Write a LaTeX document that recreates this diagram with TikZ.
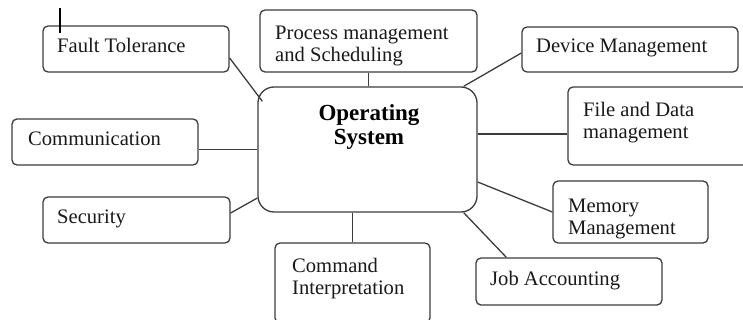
\documentclass[tikz,border=0pt]{standalone}
\usepackage{fontspec}
\setmainfont{Liberation Serif}
\usetikzlibrary{calc}
\definecolor{edge}{HTML}{3C3C3C}
\tikzset{
  box/.style={draw=edge, line width=1.3pt, rounded corners=5pt, inner sep=0pt, fill=white},
  osbox/.style={draw=edge, line width=1.3pt, rounded corners=16pt, inner sep=0pt, fill=white},
  lbl/.style={anchor=base west, inner sep=0pt, align=left, font=\fontsize{20.6}{22}\selectfont, text=black!90},
  conn/.style={draw=edge, line width=1.3pt},
}
\begin{document}
\begin{tikzpicture}[x=1pt,y=-1pt]
\useasboundingbox (0,0) rectangle (743,320);
% boxes
\node[box, minimum width=186pt, minimum height=46pt] (ft) at (136,49) {};
\node[box, minimum width=217pt, minimum height=62pt] (ps) at (368.5,41) {};
\node[box, minimum width=216pt, minimum height=45pt] (dm) at (630,49.5) {};
\node[box, minimum width=200pt, minimum height=78pt] (fd) at (668,126) {};
\node[box, minimum width=186pt, minimum height=46pt] (cm) at (105,142) {};
\node[box, minimum width=187pt, minimum height=46pt] (se) at (136.5,220) {};
\node[box, minimum width=155pt, minimum height=80pt] (cmd) at (352.5,283) {};
\node[box, minimum width=186pt, minimum height=47pt] (ja) at (569,281.5) {};
\node[box, minimum width=155pt, minimum height=62pt] (mm) at (630.5,212) {};
\node[osbox, minimum width=219pt, minimum height=125pt] (os) at (367.5,149.5) {};
% labels (anchor at the baseline of the last line)
\node[lbl] (tft) at (57,53) {Fault Tolerance};
\node[lbl] (tps) at (275,62) {Process management\\and Scheduling};
\node[lbl] (tdm) at (536,53) {Device Management};
\node[lbl] (tfd) at (583,139) {File and Data\\management};
\node[lbl] (tcm) at (28,146) {Communication};
\node[lbl] (tse) at (57,223) {Security};
\node[lbl] (tcmd) at (292,294) {Command\\Interpretation};
\node[lbl] (tja) at (490,285) {Job Accounting};
\node[lbl] (tmm) at (568,234) {Memory\\Management};
\node[anchor=base, inner sep=0pt, align=center, font=\fontsize{23}{24}\selectfont\bfseries] (tos) at (369,145) {Operating\\System};
% connectors
\draw[conn] ([yshift=-9pt]ft.east) -- ([xshift=5pt,yshift=-15pt]os.north west);
\draw[conn] (ps.south) -- (ps.south |- os.north);
\draw[conn] ([xshift=-14pt]os.north east) -- ([yshift=-3.5pt]dm.west);
\draw[conn] ([yshift=15.5pt]os.east) -- ([yshift=-8pt]fd.west);
\draw[conn] ([yshift=-32.5pt]os.east) -- (mm.west);
\draw[conn] ([xshift=-14pt]os.south east) -- ([xshift=31pt]ja.north west);
\draw[conn] (os.south -| cmd.north) -- (cmd.north);
\draw[conn] (cm.east |- os.west) -- (os.west);
\draw[conn] ([yshift=7pt]se.east) -- ([yshift=-48.5pt]os.west);
% cursor mark
\draw[line width=1.6pt, black] (60,8) -- (60,33);
\end{tikzpicture}
\end{document}
